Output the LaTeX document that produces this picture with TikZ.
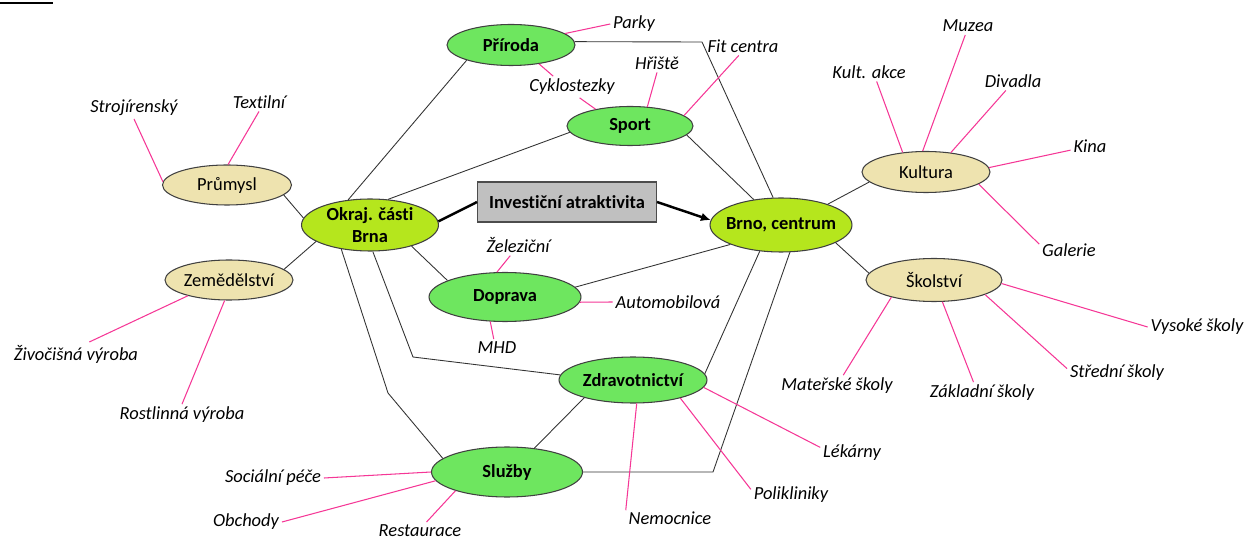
\documentclass[tikz,border=0pt]{standalone}
\usepackage{fontspec}
\setmainfont{Carlito}[Ligatures=NoCommon]
\usepackage{tikz}
\usetikzlibrary{arrows,arrows.meta,shapes.geometric}

\definecolor{zelena}{RGB}{110,230,95}
\definecolor{zlutozelena}{RGB}{181,230,29}
\definecolor{bezova}{RGB}{238,227,175}
\definecolor{seda}{RGB}{192,192,192}
\definecolor{ruzova}{RGB}{245,55,150}

\begin{document}
\begin{tikzpicture}[>=latex, x=0.02cm, y=-0.02cm,
		obl/.style={ellipse, draw=black!75, line width=0.6pt, inner xsep=-12pt, inner ysep=-3pt, font=\fontsize{10.5}{12.5}\selectfont},
		hlavni/.style={obl, fill=zelena, font=\fontsize{10.5}{12.5}\selectfont\bfseries},
		stred/.style={obl, fill=zlutozelena, font=\fontsize{10.5}{12.5}\selectfont\bfseries, align=center},
		vedl/.style={obl, fill=bezova},
		list/.style={inner sep=1.5pt, font=\fontsize{10.5}{12.5}\selectfont\itshape},
		spoj/.style={draw=black!80, line width=0.5pt},
		vetev/.style={draw=ruzova, line width=0.6pt}]
		%\draw [help lines, step=50] (0,0) grid (1247,540);
		\useasboundingbox (0,0) rectangle (1247,540);
		\draw [line width=1.5pt] (0,3) -- (53,3);

		% hlavni uzly
		\node [rectangle, draw=black!70, fill=seda, line width=0.6pt, minimum width=3.58cm, minimum height=0.8cm, inner sep=0pt, font=\fontsize{10.5}{12.5}\selectfont\bfseries] (invest) at (567,202) {Investiční atraktivita};
		\node [stred, minimum width=2.74cm, minimum height=1.04cm] (okraj) at (370,225) {Okraj. části\\Brna};
		\node [stred, minimum width=2.84cm, minimum height=1.08cm] (brno) at (781,225) {Brno, centrum};
		\node [hlavni, minimum width=2.56cm, minimum height=0.82cm] (priroda) at (511,45) {Příroda};
		\node [hlavni, minimum width=2.52cm, minimum height=0.78cm] (sport) at (630,126) {Sport};
		\node [hlavni, minimum width=3.04cm, minimum height=0.98cm] (doprava) at (505,297) {Doprava};
		\node [hlavni, minimum width=2.96cm, minimum height=0.92cm] (zdrav) at (633,380) {Zdravotnictví};
		\node [hlavni, minimum width=3.02cm, minimum height=1.0cm] (sluzby) at (507,472) {Služby};
		\node [vedl, minimum width=2.58cm, minimum height=0.8cm] (prumysl) at (227,185) {Průmysl};
		\node [vedl, minimum width=2.56cm, minimum height=0.8cm] (zemed) at (229,280) {Zemědělství};
		\node [vedl, minimum width=2.56cm, minimum height=0.82cm] (kultura) at (926,172) {Kultura};
		\node [vedl, minimum width=2.72cm, minimum height=0.86cm] (skolstvi) at (934,280) {Školství};

		% popisky
		\node [list] (parky) at (634,24) {Parky};
		\node [list] (cyklo) at (572,87) {Cyklostezky};
		\node [list] (hriste) at (657,63) {Hřiště};
		\node [list] (fit) at (743,46) {Fit centra};
		\node [list] (stroj) at (134,108) {Strojírenský};
		\node [list] (textil) at (259,102) {Textilní};
		\node [list] (kult) at (869,72) {Kult. akce};
		\node [list] (muzea) at (968,26) {Muzea};
		\node [list] (divadla) at (1013,81) {Divadla};
		\node [list] (kina) at (1090,146) {Kina};
		\node [list] (galerie) at (1069,250) {Galerie};
		\node [list] (vysoke) at (1197,327) {Vysoké školy};
		\node [list] (stredni) at (1117,373) {Střední školy};
		\node [list] (zakladni) at (982,393) {Základní školy};
		\node [list] (materske) at (837,386) {Mateřské školy};
		\node [list] (zel) at (518,245) {Železiční};
		\node [list] (auto) at (668,302) {Automobilová};
		\node [list] (mhd) at (497,348) {MHD};
		\node [list] (lekarny) at (852,453) {Lékárny};
		\node [list] (poli) at (791,495) {Polikliniky};
		\node [list] (nem) at (670,518) {Nemocnice};
		\node [list] (soc) at (273,478) {Sociální péče};
		\node [list] (obch) at (246,522) {Obchody};
		\node [list] (rest) at (420,531) {Restaurace};
		\node [list] (ziv) at (76,354) {Živočišná výroba};
		\node [list] (rost) at (182,415) {Rostlinná výroba};

		% zlomy car
		\coordinate (zlom1) at (702,42);
		\coordinate (zlom2) at (413,357);
		\coordinate (zlom3) at (388,393);
		\coordinate (zlom4) at (713,472);

		% cerne spoje
		\draw [line width=1.4pt] (okraj.3) -- (invest.west);
		\draw [-{Latex[length=5.5pt,width=5pt]}, line width=1.4pt] (invest.east) -- (brno.176);
		\draw [spoj] (prumysl.-10) -- (okraj.174);
		\draw [spoj] (zemed.11) -- (okraj.197);
		\draw [spoj] (priroda.199) -- (okraj.131);
		\draw [spoj] (sport.186) -- (okraj.55);
		\draw [spoj] (okraj.-27) -- (doprava.164);
		\draw [spoj] (okraj.-84) -- (zlom2) -- (zdrav.176);
		\draw [spoj] (okraj.220) -- (zlom3) -- (sluzby.168);
		\draw [spoj] (priroda.3) -- (zlom1) -- (brno.106);
		\draw [spoj] (sport.-9) -- (brno.137);
		\draw [spoj] (doprava.8) -- (brno.201);
		\draw [spoj] (zdrav.5) -- (brno.231);
		\draw [spoj] (sluzby.east) -- (zlom4) -- (brno.-72);
		\draw [spoj] (sluzby.41) -- (zdrav.200);
		\draw [spoj] (brno.24) -- (kultura.190);
		\draw [spoj] (brno.-18) -- (skolstvi.174);

		% ruzove vetve
		\draw [vetev] (priroda.12) -- (parky.west);
		\draw [vetev] (priroda.-34) -- (cyklo.150);
		\draw [vetev] (cyklo.-55) -- (sport.154);
		\draw [vetev] (sport.48) -- (hriste.south);
		\draw [vetev] (sport.11) -- (fit.-114);
		\draw [vetev] (prumysl.177) -- (stroj.south);
		\draw [vetev] (prumysl.87) -- (textil.south);
		\draw [vetev] (kultura.140) -- (kult.-51);
		\draw [vetev] (kultura.99) -- (muzea.-107);
		\draw [vetev] (kultura.38) -- (divadla.-127);
		\draw [vetev] (kultura.4) -- (kina.-168);
		\draw [vetev] (kultura.-13) -- (galerie.169);
		\draw [vetev] (skolstvi.-3) -- (vysoke.west);
		\draw [vetev] (skolstvi.-16) -- (stredni.175);
		\draw [vetev] (skolstvi.-69) -- (zakladni.128);
		\draw [vetev] (skolstvi.202) -- (materske.60);
		\draw [vetev] (doprava.108) -- (zel.-126);
		\draw [vetev] (doprava.-4) -- (auto.west);
		\draw [vetev] (doprava.-121) -- (mhd.110);
		\draw [vetev] (zdrav.-6) -- (lekarny.170);
		\draw [vetev] (zdrav.-21) -- (poli.172);
		\draw [vetev] (zdrav.-81) -- (nem.170);
		\draw [vetev] (sluzby.west) -- (soc.east);
		\draw [vetev] (sluzby.187) -- (obch.east);
		\draw [vetev] (sluzby.200) -- (rest.54);
		\draw [vetev] (zemed.201) -- (ziv.42);
		\draw [vetev] (zemed.258) -- (rost.north);
	\end{tikzpicture}
\end{document}
